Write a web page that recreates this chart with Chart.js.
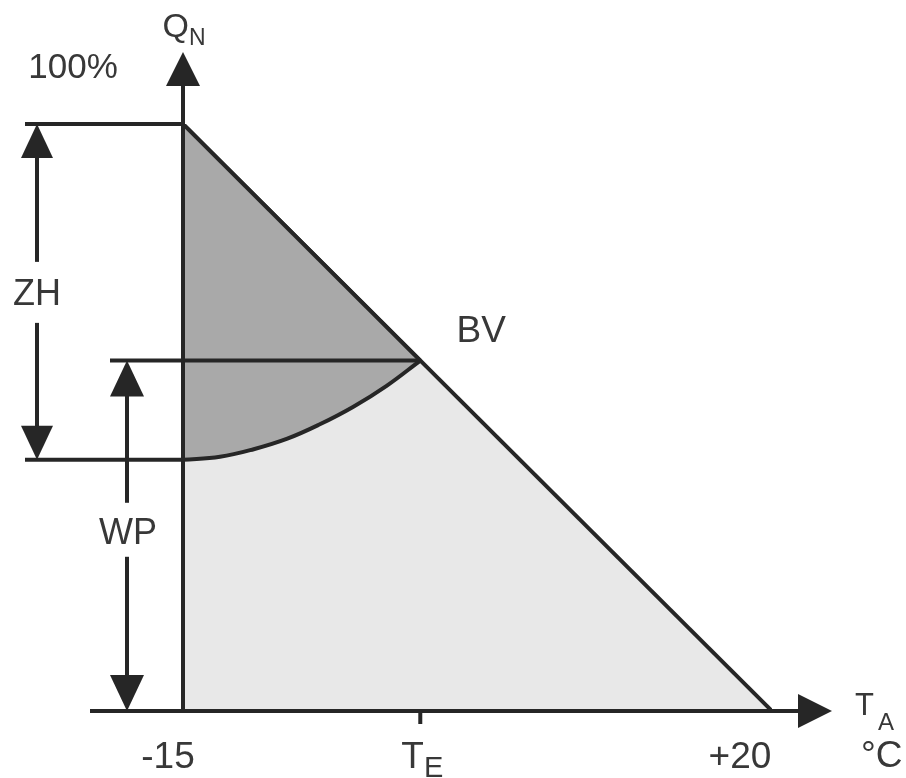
<!DOCTYPE html>
<html lang="de">
<head>
<meta charset="UTF-8">
<title>Heizlast Q_N über Außentemperatur T_A</title>
<script src="https://cdn.jsdelivr.net/npm/chart.js"></script>
<style>
  html,body{margin:0;padding:0;background:#fff;}
  #wrap{width:906px;height:778px;position:relative;}
</style>
</head>
<body>
<div id="wrap"><canvas id="myChart"></canvas></div>
<script>
// --- Daten (T_A in °C, Q_N in %) ---
const tempTicks = [-15, -0.9, 20];
const tickLabels = ['-15', 'T_E', '+20'];
const lineTemps = [-15, 20];          // Heizlastgerade
const lineLoads = [100, 0];
const bvTemp = -0.9;                  // Bivalenzpunkt BV
const bvLoad = 59.7;
const upperTemps = [-15, -0.9];       // Anteil ZH oberhalb BV
const upperLoads = [100, 59.7];
const curveTemps = [-15, -12.8, -10.8, -8.8, -6.9, -4.9, -2.9, -0.9];
const curveLoads = [42.8, 43.3, 44.6, 46.4, 48.8, 51.8, 55.4, 59.7];

// --- Stil ---
const ink = '#262626', txt = '#383838';
const darkFill = '#a9a9a9', lightFill = '#e8e8e8';
const font = '"Liberation Sans", Arial, sans-serif';
const tickOffsets = [-15, 2, -32];

const pts = (xs, ys) => xs.map((v, i) => ({x: v, y: ys[i]}));

function arrowHead(ctx, x, y, dir, len, half){
  ctx.beginPath();
  ctx.moveTo(x, y);
  if(dir == 'up'){ ctx.lineTo(x-half, y+len); ctx.lineTo(x+half, y+len); }
  else if(dir == 'down'){ ctx.lineTo(x-half, y-len); ctx.lineTo(x+half, y-len); }
  else { ctx.lineTo(x-len, y-half); ctx.lineTo(x-len, y+half); }
  ctx.closePath();
  ctx.fill();
}

// text mit Index (z.B. T_E) zentriert zeichnen
function subText(ctx, main, sub, cx, base, size, subSize, drop){
  ctx.font = size + 'px ' + font;
  const w1 = ctx.measureText(main).width;
  ctx.font = subSize + 'px ' + font;
  const w2 = sub ? ctx.measureText(sub).width : 0;
  let left = cx - (w1 + w2) / 2;
  ctx.textAlign = 'left';
  ctx.textBaseline = 'alphabetic';
  ctx.font = size + 'px ' + font;
  ctx.fillText(main, left, base);
  if(sub){
    ctx.font = subSize + 'px ' + font;
    ctx.fillText(sub, left + w1, base + drop);
  }
}

const schemaPlugin = {
  id: 'schema',
  afterDatasetsDraw(chart){
    const {ctx, chartArea: a, scales: {x, y}} = chart;
    const x0 = x.getPixelForValue(tempTicks[0]);
    const xBV = x.getPixelForValue(bvTemp);
    const y0 = y.getPixelForValue(0);
    const yTop = y.getPixelForValue(100);
    const yBV = y.getPixelForValue(bvLoad);
    const yZH = y.getPixelForValue(curveLoads[0]);
    const seg = (x1, y1, x2, y2) => { ctx.beginPath(); ctx.moveTo(x1, y1); ctx.lineTo(x2, y2); ctx.stroke(); };

    ctx.save();
    ctx.strokeStyle = ink; ctx.fillStyle = ink; ctx.lineWidth = 4;

    // Achsen
    seg(x0, y0, x0, a.top - 50);
    arrowHead(ctx, x0, a.top - 72, 'up', 34, 17);
    seg(a.left - 93, y0, a.right + 40, y0);
    arrowHead(ctx, a.right + 60, y0, 'right', 34, 17);
    seg(xBV, y0, xBV, y0 + 13);

    // Hilfslinien
    seg(a.left - 158, yTop, x0, yTop);
    seg(a.left - 158, yZH, x0, yZH);
    seg(a.left - 73, yBV, xBV, yBV);

    // ZH Pfeil
    const xZH = a.left - 146, mZH = (yTop + yZH) / 2;
    seg(xZH, yTop + 20, xZH, mZH - 30);
    seg(xZH, mZH + 31, xZH, yZH - 20);
    arrowHead(ctx, xZH, yTop, 'up', 34, 16);
    arrowHead(ctx, xZH, yZH, 'down', 34, 16);

    // WP Pfeil
    const xWP = a.left - 56, mWP = (yBV + y0) / 2 - 6;
    seg(xWP, yBV + 20, xWP, mWP - 27);
    seg(xWP, mWP + 27, xWP, y0 - 20);
    arrowHead(ctx, xWP, yBV, 'up', 36, 17);
    arrowHead(ctx, xWP, y0, 'down', 36, 17);

    // Texte
    ctx.fillStyle = txt;
    subText(ctx, 'ZH', '', xZH, mZH + 13, 36, 0, 0);
    subText(ctx, 'WP', '', xWP + 1, mWP + 14, 36, 0, 0);
    subText(ctx, 'BV', '', xBV + 61, yBV - 19, 37, 0, 0);
    subText(ctx, '100%', '', a.left - 110, yTop - 46, 35, 0, 0);
    subText(ctx, 'Q', 'N', x0 + 1, a.top - 87, 34, 23, 8);
    tempTicks.forEach((t, i) => {
      const [m, s] = tickLabels[i].split('_');
      subText(ctx, m, s || '', x.getPixelForValue(t) + tickOffsets[i], y0 + 57, 37, 29, 9);
    });
    ctx.textAlign = 'left';
    ctx.font = '31px ' + font;
    ctx.fillText('T', a.right + 83, y0 + 4);
    ctx.font = '24px ' + font;
    ctx.fillText('A', a.right + 106, y0 + 19);
    ctx.font = '37px ' + font;
    ctx.fillText('°C', a.right + 89, y0 + 56);
    ctx.restore();
  }
};

new Chart(document.getElementById('myChart'), {
  type: 'line',
  data: {
    datasets: [
      {
        data: pts(curveTemps, curveLoads),
        fill: {value: bvLoad},
        backgroundColor: darkFill,
        borderColor: ink,
        borderWidth: 4,
        tension: 0.4,
        pointRadius: 0,
        order: 1
      },
      {
        data: pts(upperTemps, upperLoads),
        fill: {value: bvLoad},
        backgroundColor: darkFill,
        borderColor: ink,
        borderWidth: 4,
        pointRadius: 0,
        order: 2
      },
      {
        data: pts(lineTemps, lineLoads),
        fill: 'origin',
        backgroundColor: lightFill,
        borderColor: ink,
        borderWidth: 4,
        pointRadius: 0,
        order: 3
      }
    ]
  },
  options: {
    responsive: true,
    maintainAspectRatio: false,
    animation: false,
    layout: {padding: {left: 183, right: 134, top: 124, bottom: 67}},
    scales: {
      x: {type: 'linear', min: -15, max: 20, display: false},
      y: {min: 0, max: 100, display: false}
    },
    plugins: {legend: {display: false}, tooltip: {enabled: false}}
  },
  plugins: [schemaPlugin]
});
</script>
</body>
</html>
